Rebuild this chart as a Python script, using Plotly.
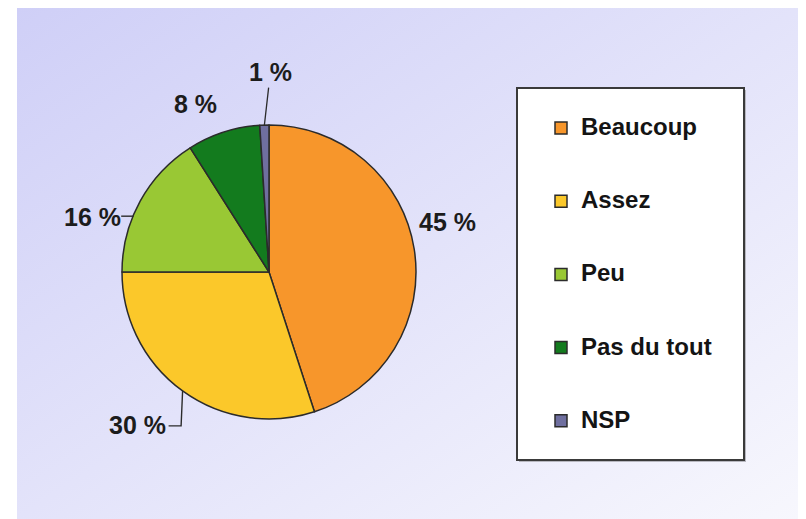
import math
import base64
import plotly.graph_objects as go

# ---- data ----
categories = ["Beaucoup", "Assez", "Peu", "Pas du tout", "NSP"]
values = [45, 30, 16, 8, 1]
value_labels = ["45 %", "30 %", "16 %", "8 %", "1 %"]
colors = ["#F7962B", "#FBC82A", "#99C834", "#137B1E", "#6F6F9F"]

# ---- layout / style constants ----
W, H = 806, 519
OFF = 8                               # page body margin offset
CX, CY, R = 269 - OFF, 272 - OFF, 147  # pie centre and radius in pixels
# per-label text offset (px, screen coords) from the slice's outer mid-point, and leader style
label_offsets = [(33, -27, None), (-45, 34, "elbow"), (-48, 16, "horiz"), (-28, -28, None), (6, -53, "arrow")]
TEXT_HALF = 31                        # half width of a label + gap, px
FONT = "Liberation Sans, Arial, sans-serif"
LINE_COL = "#2b2b2b"


def px_x(x):
    return (x - OFF) / W


def px_y(y):
    return (H - (y - OFF)) / H


def fx(x):
    return x / W


def fy(y):
    return (H - y) / H


# background gradient as an SVG image
svg = ('<svg xmlns="http://www.w3.org/2000/svg" width="100" height="100" viewBox="0 0 100 100" '
       'preserveAspectRatio="none"><defs><linearGradient id="g" x1="0" y1="0" x2="1" y2="1">'
       '<stop offset="0" stop-color="#CFCFF7"/><stop offset="1" stop-color="#F7F7FD"/>'
       '</linearGradient></defs><rect width="100" height="100" fill="url(#g)"/></svg>')
bg_src = "data:image/svg+xml;base64," + base64.b64encode(svg.encode()).decode()

legend_names = ["&nbsp;<br><span style='font-size:24px'>" + c + "</span><br>&nbsp;" for c in categories]

fig = go.Figure()
fig.add_trace(go.Pie(
    labels=legend_names,
    values=values,
    sort=False,
    direction="clockwise",
    rotation=0,
    textinfo="none",
    hoverinfo="skip",
    marker=dict(colors=colors, line=dict(color=LINE_COL, width=1.5)),
    domain=dict(x=[(CX - R) / W, (CX + R) / W], y=[(H - CY - R) / H, (H - CY + R) / H]),
))

# labels placed from the slice mid-angles
annotations = []
leader_shapes = []
total = sum(values)
cum = 0
for v, txt, (dx, dy, leader) in zip(values, value_labels, label_offsets):
    mid = (cum + v / 2) / total * 2 * math.pi
    cum += v
    ex = CX + R * math.sin(mid)
    ey = CY - R * math.cos(mid)
    tx, ty = ex + dx, ey + dy
    font = dict(family=FONT, size=25, color="#1c1c1c", weight="bold")
    if leader == "arrow":
        annotations.append(dict(xref="paper", yref="paper", text=txt, font=font,
                                x=fx(ex), y=fy(ey), showarrow=True, ax=dx, ay=dy,
                                arrowhead=0, arrowwidth=1.3, arrowcolor=LINE_COL,
                                standoff=0, startstandoff=0))
        continue
    annotations.append(dict(xref="paper", yref="paper", text=txt, font=font,
                            x=fx(tx), y=fy(ty), showarrow=False,
                            xanchor="center", yanchor="middle"))
    side = 1 if tx < CX else -1
    sx = tx + side * TEXT_HALF
    if leader == "elbow":
        pts = [(sx, ty + 1), (ex - side * 1.5, ty + 1), (ex, ey)]
    elif leader == "horiz":
        hx = CX - side * math.sqrt(max(R * R - (ty - CY) ** 2, 0))
        pts = [(sx - side * 2, ty - 1), (hx + side * 1, ty - 1)]
    else:
        pts = None
    if pts:
        path = "M " + " L ".join(f"{fx(a):.5f},{fy(b):.5f}" for a, b in pts)
        leader_shapes.append(dict(type="path", xref="paper", yref="paper", path=path,
                                  line=dict(color=LINE_COL, width=1.4), layer="above"))

shapes = [
    # legend box shadow and box
    dict(type="rect", xref="paper", yref="paper", layer="below",
         x0=px_x(519), x1=px_x(746), y0=px_y(462), y1=px_y(90),
         line=dict(width=0), fillcolor="#b8b8c0"),
    dict(type="rect", xref="paper", yref="paper", layer="below",
         x0=px_x(517), x1=px_x(744), y0=px_y(460), y1=px_y(88),
         line=dict(color="#3a3a3a", width=2), fillcolor="white"),
] + leader_shapes

fig.update_layout(
    width=W, height=H,
    margin=dict(l=0, r=0, t=0, b=0),
    paper_bgcolor="white",
    plot_bgcolor="white",
    images=[dict(source=bg_src, xref="paper", yref="paper", x=px_x(17), y=1,
                 sizex=(800 - 17) / W, sizey=(519 - 8) / H,
                 xanchor="left", yanchor="top", sizing="stretch", layer="below")],
    shapes=shapes,
    annotations=annotations,
    showlegend=True,
    legend=dict(x=px_x(541), y=px_y(86.4), xanchor="left", yanchor="top",
                bgcolor="rgba(0,0,0,0)", borderwidth=0,
                font=dict(family=FONT, size=18, color="#141414", weight="bold")),
)

fig.write_html("out.html")
